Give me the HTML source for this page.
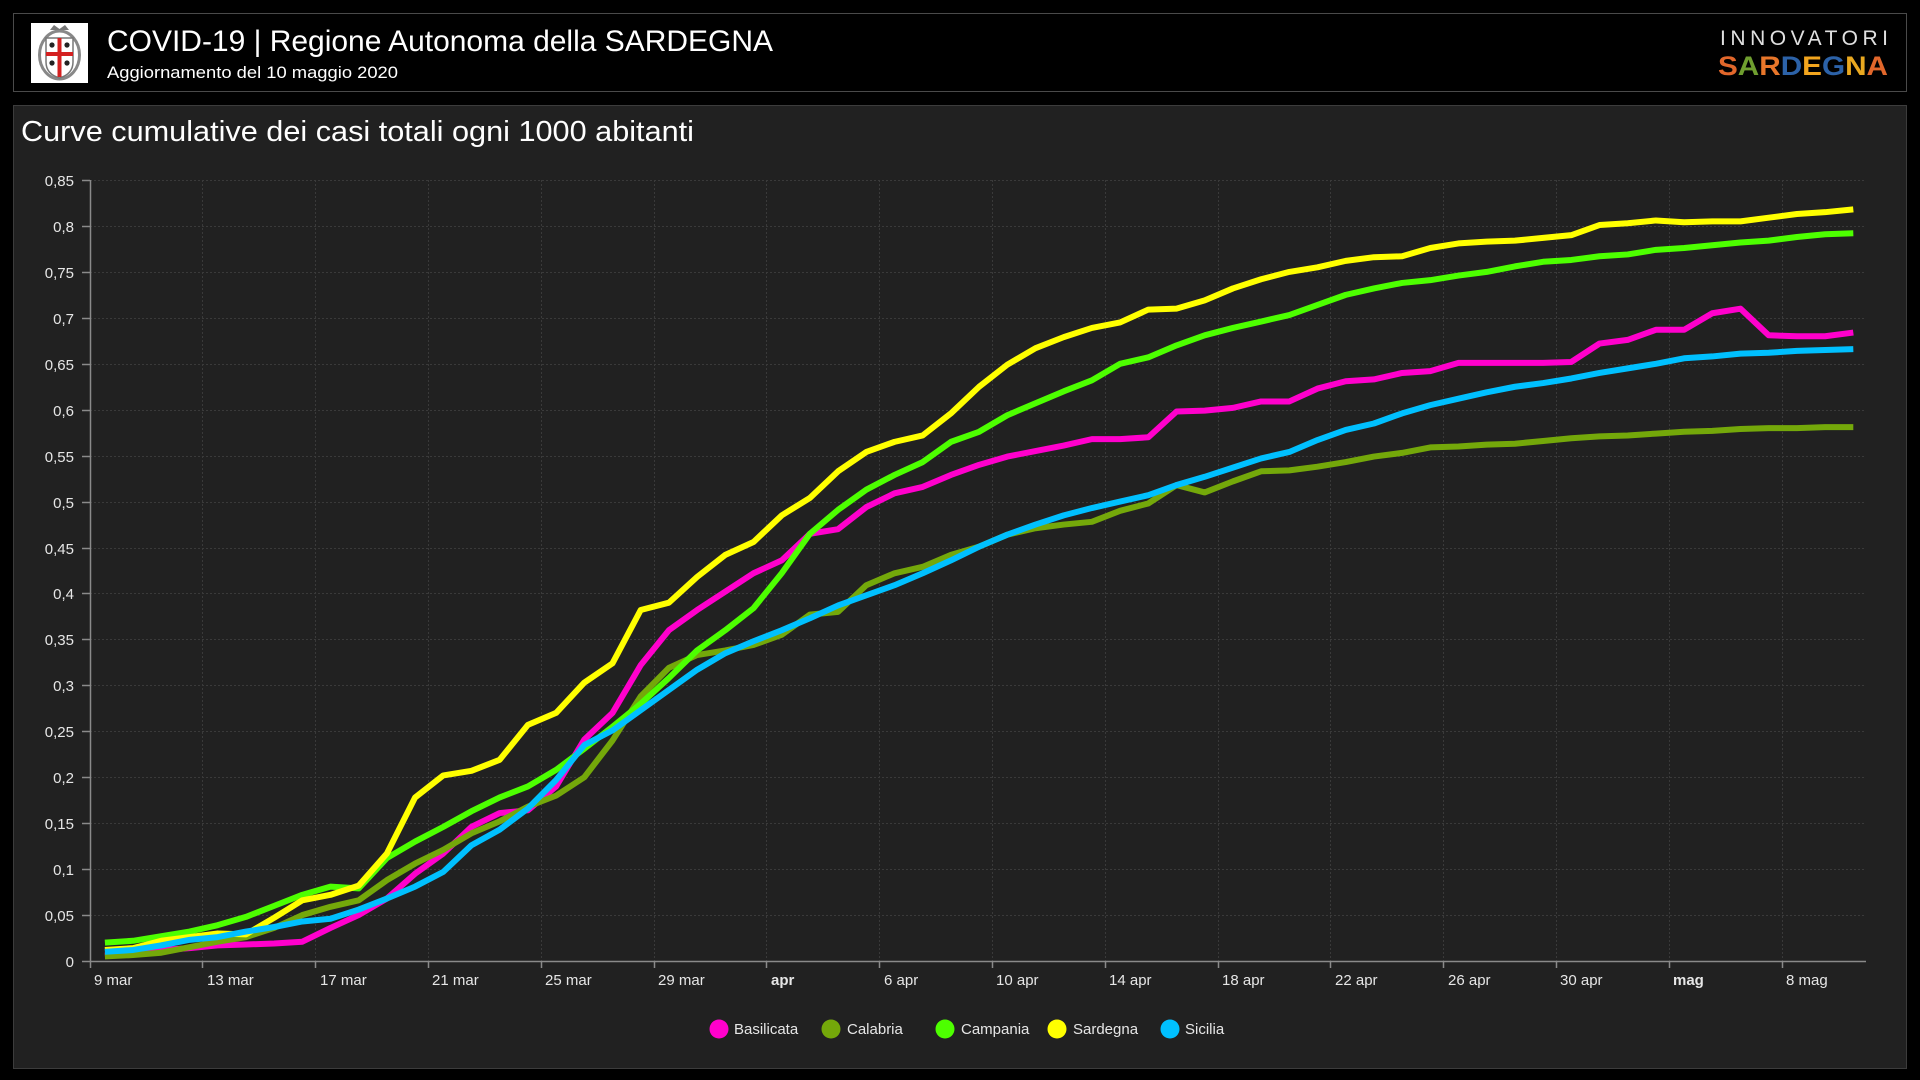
<!DOCTYPE html>
<html><head><meta charset="utf-8"><style>
html,body{margin:0;padding:0;background:#000;width:1920px;height:1080px;overflow:hidden}
svg{display:block}
text{font-family:"Liberation Sans",Arial,sans-serif}
</style></head><body>
<svg width="1920" height="1080" viewBox="0 0 1920 1080" xmlns="http://www.w3.org/2000/svg">
<rect x="0" y="0" width="1920" height="1080" fill="#000"/>
<!-- header -->
<rect x="13.5" y="13.5" width="1893" height="78" fill="#000" stroke="#4a4a4a" stroke-width="1"/>
<!-- logo -->
<rect x="31" y="23" width="57" height="60" fill="#fff"/>
<ellipse cx="59.5" cy="55" rx="20" ry="24" fill="none" stroke="#888" stroke-width="3"/>
<path d="M50 30 L54 25 L59.5 29 L65 25 L69 30 Z" fill="#777"/>
<path d="M46 38 L73 38 L73 62 Q73 74 59.5 78 Q46 74 46 62 Z" fill="#fff" stroke="#777" stroke-width="1.5"/>
<rect x="57.5" y="38" width="4" height="39" fill="#d42020"/>
<rect x="46" y="52" width="27" height="4" fill="#d42020"/>
<circle cx="52" cy="45" r="2.6" fill="#222"/><circle cx="67" cy="45" r="2.6" fill="#222"/>
<circle cx="52" cy="63" r="2.6" fill="#222"/><circle cx="67" cy="63" r="2.6" fill="#222"/>
<text x="107" y="51" font-size="30" fill="#fff" textLength="666" lengthAdjust="spacingAndGlyphs">COVID-19 | Regione Autonoma della SARDEGNA</text>
<text x="107" y="78" font-size="17" fill="#fff" textLength="291" lengthAdjust="spacingAndGlyphs">Aggiornamento del 10 maggio 2020</text>
<text x="1720" y="45" font-size="21" fill="#e0e0e0" textLength="168" lengthAdjust="spacing">INNOVATORI</text>
<text x="1718" y="75" font-size="27" font-weight="bold" textLength="170" lengthAdjust="spacingAndGlyphs"><tspan fill="#e2672b">S</tspan><tspan fill="#6f9e2f">A</tspan><tspan fill="#e8762a">R</tspan><tspan fill="#2c62a8">D</tspan><tspan fill="#f2a51e">E</tspan><tspan fill="#2c62a8">G</tspan><tspan fill="#e9a820">N</tspan><tspan fill="#e2672b">A</tspan></text>
<!-- panel -->
<rect x="13.5" y="105.5" width="1893" height="963" fill="#212121" stroke="#3c3c3c" stroke-width="1"/>
<text x="21" y="141" font-size="29" fill="#fff" textLength="673" lengthAdjust="spacingAndGlyphs">Curve cumulative dei casi totali ogni 1000 abitanti</text>
<!-- grid -->
<g stroke="#3a3a3a" stroke-width="1" stroke-dasharray="2 2" fill="none">
<line x1="90" y1="180.5" x2="1865" y2="180.5"/>
<line x1="90" y1="226.5" x2="1865" y2="226.5"/>
<line x1="90" y1="272.5" x2="1865" y2="272.5"/>
<line x1="90" y1="318.5" x2="1865" y2="318.5"/>
<line x1="90" y1="364.5" x2="1865" y2="364.5"/>
<line x1="90" y1="410.5" x2="1865" y2="410.5"/>
<line x1="90" y1="456.5" x2="1865" y2="456.5"/>
<line x1="90" y1="502.5" x2="1865" y2="502.5"/>
<line x1="90" y1="548.5" x2="1865" y2="548.5"/>
<line x1="90" y1="593.5" x2="1865" y2="593.5"/>
<line x1="90" y1="639.5" x2="1865" y2="639.5"/>
<line x1="90" y1="685.5" x2="1865" y2="685.5"/>
<line x1="90" y1="731.5" x2="1865" y2="731.5"/>
<line x1="90" y1="777.5" x2="1865" y2="777.5"/>
<line x1="90" y1="823.5" x2="1865" y2="823.5"/>
<line x1="90" y1="869.5" x2="1865" y2="869.5"/>
<line x1="90" y1="915.5" x2="1865" y2="915.5"/>
<line x1="202.5" y1="180" x2="202.5" y2="961"/>
<line x1="315.5" y1="180" x2="315.5" y2="961"/>
<line x1="428.5" y1="180" x2="428.5" y2="961"/>
<line x1="541.5" y1="180" x2="541.5" y2="961"/>
<line x1="654.5" y1="180" x2="654.5" y2="961"/>
<line x1="766.5" y1="180" x2="766.5" y2="961"/>
<line x1="879.5" y1="180" x2="879.5" y2="961"/>
<line x1="992.5" y1="180" x2="992.5" y2="961"/>
<line x1="1105.5" y1="180" x2="1105.5" y2="961"/>
<line x1="1218.5" y1="180" x2="1218.5" y2="961"/>
<line x1="1330.5" y1="180" x2="1330.5" y2="961"/>
<line x1="1443.5" y1="180" x2="1443.5" y2="961"/>
<line x1="1556.5" y1="180" x2="1556.5" y2="961"/>
<line x1="1669.5" y1="180" x2="1669.5" y2="961"/>
<line x1="1782.5" y1="180" x2="1782.5" y2="961"/>
</g>
<!-- axes -->
<g stroke="#8a8a8a" stroke-width="1.5" fill="none">
<line x1="90.5" y1="180" x2="90.5" y2="962"/>
<line x1="82" y1="961.5" x2="1866" y2="961.5"/>
<line x1="82" y1="180.5" x2="90" y2="180.5"/>
<line x1="82" y1="226.5" x2="90" y2="226.5"/>
<line x1="82" y1="272.5" x2="90" y2="272.5"/>
<line x1="82" y1="318.5" x2="90" y2="318.5"/>
<line x1="82" y1="364.5" x2="90" y2="364.5"/>
<line x1="82" y1="410.5" x2="90" y2="410.5"/>
<line x1="82" y1="456.5" x2="90" y2="456.5"/>
<line x1="82" y1="502.5" x2="90" y2="502.5"/>
<line x1="82" y1="548.5" x2="90" y2="548.5"/>
<line x1="82" y1="593.5" x2="90" y2="593.5"/>
<line x1="82" y1="639.5" x2="90" y2="639.5"/>
<line x1="82" y1="685.5" x2="90" y2="685.5"/>
<line x1="82" y1="731.5" x2="90" y2="731.5"/>
<line x1="82" y1="777.5" x2="90" y2="777.5"/>
<line x1="82" y1="823.5" x2="90" y2="823.5"/>
<line x1="82" y1="869.5" x2="90" y2="869.5"/>
<line x1="82" y1="915.5" x2="90" y2="915.5"/>
<line x1="90.5" y1="961" x2="90.5" y2="968"/>
<line x1="202.5" y1="961" x2="202.5" y2="968"/>
<line x1="315.5" y1="961" x2="315.5" y2="968"/>
<line x1="428.5" y1="961" x2="428.5" y2="968"/>
<line x1="541.5" y1="961" x2="541.5" y2="968"/>
<line x1="654.5" y1="961" x2="654.5" y2="968"/>
<line x1="766.5" y1="961" x2="766.5" y2="968"/>
<line x1="879.5" y1="961" x2="879.5" y2="968"/>
<line x1="992.5" y1="961" x2="992.5" y2="968"/>
<line x1="1105.5" y1="961" x2="1105.5" y2="968"/>
<line x1="1218.5" y1="961" x2="1218.5" y2="968"/>
<line x1="1330.5" y1="961" x2="1330.5" y2="968"/>
<line x1="1443.5" y1="961" x2="1443.5" y2="968"/>
<line x1="1556.5" y1="961" x2="1556.5" y2="968"/>
<line x1="1669.5" y1="961" x2="1669.5" y2="968"/>
<line x1="1782.5" y1="961" x2="1782.5" y2="968"/>
</g>
<!-- y labels -->
<g font-size="15" fill="#e6e6e6" text-anchor="end">
<text x="74" y="186">0,85</text>
<text x="74" y="232">0,8</text>
<text x="74" y="278">0,75</text>
<text x="74" y="324">0,7</text>
<text x="74" y="370">0,65</text>
<text x="74" y="416">0,6</text>
<text x="74" y="462">0,55</text>
<text x="74" y="508">0,5</text>
<text x="74" y="554">0,45</text>
<text x="74" y="599">0,4</text>
<text x="74" y="645">0,35</text>
<text x="74" y="691">0,3</text>
<text x="74" y="737">0,25</text>
<text x="74" y="783">0,2</text>
<text x="74" y="829">0,15</text>
<text x="74" y="875">0,1</text>
<text x="74" y="921">0,05</text>
<text x="74" y="967">0</text>
</g>
<!-- x labels -->
<g font-size="15" fill="#e6e6e6">
<text x="94" y="985">9 mar</text>
<text x="207" y="985">13 mar</text>
<text x="320" y="985">17 mar</text>
<text x="432" y="985">21 mar</text>
<text x="545" y="985">25 mar</text>
<text x="658" y="985">29 mar</text>
<text x="771" y="985" font-weight="bold">apr</text>
<text x="884" y="985">6 apr</text>
<text x="996" y="985">10 apr</text>
<text x="1109" y="985">14 apr</text>
<text x="1222" y="985">18 apr</text>
<text x="1335" y="985">22 apr</text>
<text x="1448" y="985">26 apr</text>
<text x="1560" y="985">30 apr</text>
<text x="1673" y="985" font-weight="bold">mag</text>
<text x="1786" y="985">8 mag</text>
</g>
<!-- series -->
<g transform="translate(104.9,961) scale(28.2,-918.8)" fill="none" stroke-width="6" stroke-linejoin="round" stroke-linecap="butt">
<polyline vector-effect="non-scaling-stroke" stroke="#ff00cc" points="0,0.006 1,0.008 2,0.012 3,0.014 4,0.017 5,0.018 6,0.019 7,0.021 8,0.036 9,0.05 10,0.068 11,0.095 12,0.117 13,0.146 14,0.161 15,0.164 16,0.19 17,0.241 18,0.27 19,0.322 20,0.36 21,0.382 22,0.402 23,0.422 24,0.436 25,0.465 26,0.47 27,0.494 28,0.509 29,0.516 30,0.529 31,0.54 32,0.549 33,0.555 34,0.561 35,0.568 36,0.568 37,0.57 38,0.598 39,0.599 40,0.602 41,0.609 42,0.609 43,0.623 44,0.631 45,0.633 46,0.64 47,0.642 48,0.651 49,0.651 50,0.651 51,0.651 52,0.652 53,0.672 54,0.676 55,0.687 56,0.687 57,0.705 58,0.71 59,0.681 60,0.68 61,0.68 62,0.684"/>
<polyline vector-effect="non-scaling-stroke" stroke="#74a80a" points="0,0.005 1,0.0065 2,0.009 3,0.015 4,0.021 5,0.026 6,0.036 7,0.05 8,0.059 9,0.066 10,0.088 11,0.106 12,0.121 13,0.139 14,0.152 15,0.168 16,0.18 17,0.2 18,0.24 19,0.288 20,0.319 21,0.333 22,0.338 23,0.344 24,0.355 25,0.377 26,0.38 27,0.409 28,0.422 29,0.429 30,0.442 31,0.451 32,0.464 33,0.471 34,0.475 35,0.478 36,0.49 37,0.498 38,0.518 39,0.51 40,0.522 41,0.533 42,0.534 43,0.538 44,0.543 45,0.549 46,0.553 47,0.559 48,0.56 49,0.562 50,0.563 51,0.566 52,0.569 53,0.571 54,0.572 55,0.574 56,0.576 57,0.577 58,0.579 59,0.58 60,0.58 61,0.581 62,0.581"/>
<polyline vector-effect="non-scaling-stroke" stroke="#4dff00" points="0,0.02 1,0.022 2,0.027 3,0.032 4,0.039 5,0.048 6,0.06 7,0.072 8,0.081 9,0.079 10,0.112 11,0.13 12,0.146 13,0.163 14,0.178 15,0.19 16,0.208 17,0.231 18,0.255 19,0.28 20,0.308 21,0.338 22,0.36 23,0.384 24,0.422 25,0.465 26,0.491 27,0.513 28,0.529 29,0.543 30,0.565 31,0.576 32,0.594 33,0.607 34,0.62 35,0.632 36,0.65 37,0.657 38,0.67 39,0.681 40,0.689 41,0.696 42,0.703 43,0.714 44,0.725 45,0.732 46,0.738 47,0.741 48,0.746 49,0.75 50,0.756 51,0.761 52,0.763 53,0.767 54,0.769 55,0.774 56,0.776 57,0.779 58,0.782 59,0.784 60,0.788 61,0.791 62,0.792"/>
<polyline vector-effect="non-scaling-stroke" stroke="#ffff00" points="0,0.012 1,0.014 2,0.022 3,0.026 4,0.03 5,0.029 6,0.047 7,0.066 8,0.072 9,0.082 10,0.117 11,0.178 12,0.202 13,0.207 14,0.219 15,0.257 16,0.27 17,0.303 18,0.324 19,0.382 20,0.39 21,0.418 22,0.442 23,0.456 24,0.485 25,0.504 26,0.533 27,0.554 28,0.565 29,0.572 30,0.596 31,0.625 32,0.649 33,0.667 34,0.679 35,0.689 36,0.695 37,0.709 38,0.71 39,0.719 40,0.732 41,0.742 42,0.75 43,0.755 44,0.762 45,0.766 46,0.767 47,0.776 48,0.781 49,0.783 50,0.784 51,0.787 52,0.79 53,0.801 54,0.803 55,0.806 56,0.804 57,0.805 58,0.805 59,0.809 60,0.813 61,0.815 62,0.818"/>
<polyline vector-effect="non-scaling-stroke" stroke="#00c0ff" points="0,0.01 1,0.012 2,0.017 3,0.023 4,0.026 5,0.032 6,0.037 7,0.043 8,0.046 9,0.056 10,0.068 11,0.081 12,0.097 13,0.126 14,0.143 15,0.166 16,0.197 17,0.235 18,0.251 19,0.273 20,0.295 21,0.317 22,0.335 23,0.348 24,0.36 25,0.373 26,0.387 27,0.398 28,0.409 29,0.422 30,0.436 31,0.451 32,0.464 33,0.475 34,0.485 35,0.493 36,0.5 37,0.507 38,0.518 39,0.527 40,0.537 41,0.547 42,0.554 43,0.567 44,0.578 45,0.585 46,0.596 47,0.605 48,0.612 49,0.619 50,0.625 51,0.629 52,0.634 53,0.64 54,0.645 55,0.65 56,0.656 57,0.658 58,0.661 59,0.662 60,0.664 61,0.665 62,0.666"/>
</g>
<!-- legend -->
<g font-size="15" fill="#e6e6e6">
<circle cx="719" cy="1029" r="9.5" fill="#ff00cc"/>
<text x="734" y="1034">Basilicata</text>
<circle cx="831" cy="1029" r="9.5" fill="#74a80a"/>
<text x="847" y="1034">Calabria</text>
<circle cx="945" cy="1029" r="9.5" fill="#4dff00"/>
<text x="961" y="1034">Campania</text>
<circle cx="1057" cy="1029" r="9.5" fill="#ffff00"/>
<text x="1073" y="1034">Sardegna</text>
<circle cx="1170" cy="1029" r="9.5" fill="#00c0ff"/>
<text x="1185" y="1034">Sicilia</text>
</g>
</svg>
</body></html>
